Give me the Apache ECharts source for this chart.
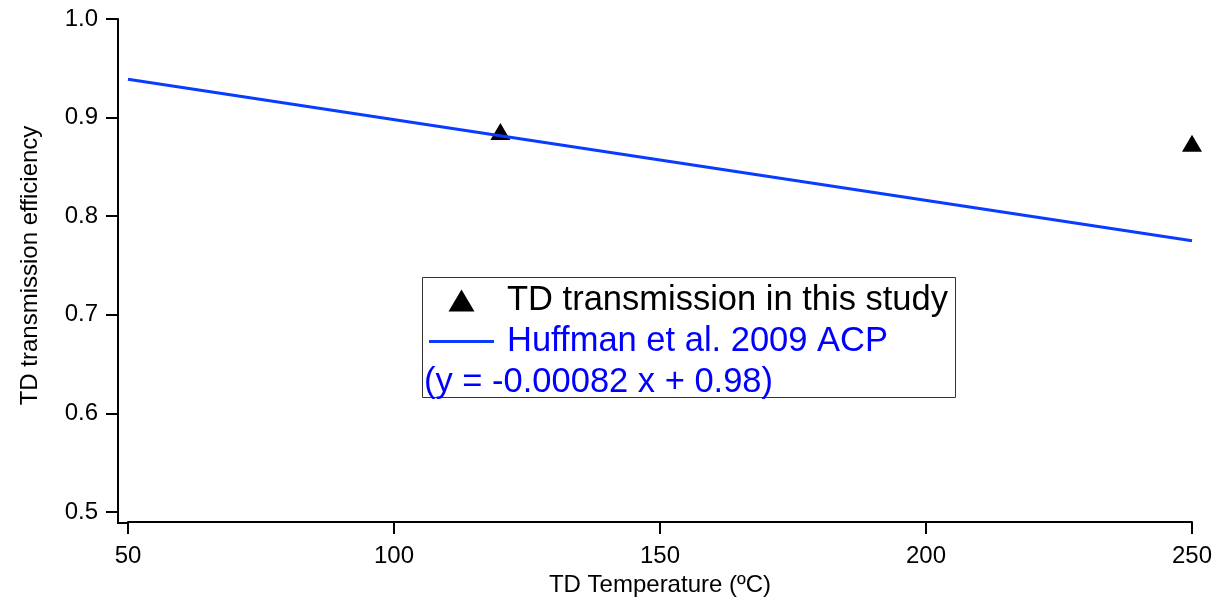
<!DOCTYPE html>
<html>
<head>
<meta charset="utf-8">
<script src="https://cdn.jsdelivr.net/npm/echarts@6/dist/echarts.min.js"></script>
<style>
html,body{margin:0;padding:0;background:#fff;}
#chart{width:1223px;height:609px;}
</style>
</head>
<body>
<div id="chart"></div>
<script>
// ---- data ----
var studyName = 'TD transmission in this study';
var studyTemps = [120, 250];
var studyValues = [0.886, 0.874];

var huffmanName = 'Huffman et al. 2009 ACP';
var huffmanTemps = [50, 250];
var huffmanValues = [0.939, 0.775];
var huffmanEquation = '(y = -0.00082 x + 0.98)';

var xTitle = 'TD Temperature (\u00BAC)';
var yTitle = 'TD transmission efficiency';
var xTicks = [50, 100, 150, 200, 250];
var yTicks = [0.5, 0.6, 0.7, 0.8, 0.9, 1.0];

// ---- build ----
function pairs(xs, ys){ return xs.map(function(x,i){ return [x, ys[i]]; }); }
var FONT = '"Liberation Sans", Arial, Helvetica, sans-serif';
var chart = echarts.init(document.getElementById('chart'), null, {renderer:'canvas'});
chart.setOption({
  backgroundColor: '#ffffff',
  animation: false,
  textStyle: {fontFamily: FONT},
  grid: {left: 128, right: 31, top: 19, bottom: 97, containLabel: false},
  xAxis: {
    type: 'value',
    min: xTicks[0], max: xTicks[xTicks.length-1], interval: 50,
    offset: 10,
    name: xTitle, nameLocation: 'middle', nameGap: 50,
    nameTextStyle: {fontSize: 24, color: '#000', fontFamily: FONT},
    axisLine: {show: true, onZero: false, lineStyle: {color: '#000', width: 2}},
    axisTick: {show: true, length: 12, lineStyle: {color: '#000', width: 2}},
    axisLabel: {fontSize: 24, color: '#000', margin: 22, fontFamily: FONT},
    splitLine: {show: false}
  },
  yAxis: {
    type: 'value',
    min: yTicks[0], max: yTicks[yTicks.length-1], interval: 0.1,
    offset: 10,
    name: yTitle, nameLocation: 'middle', nameGap: 76,
    nameTextStyle: {fontSize: 24, color: '#000', fontFamily: FONT},
    axisLine: {show: true, onZero: false, lineStyle: {color: '#000', width: 2}},
    axisTick: {show: true, length: 12, lineStyle: {color: '#000', width: 2}},
    axisLabel: {fontSize: 24, color: '#000', margin: 20, fontFamily: FONT,
      formatter: function(v){ return v.toFixed(1); }},
    splitLine: {show: false}
  },
  legend: {
    orient: 'vertical',
    left: 422, top: 280,
    itemGap: 0, itemWidth: 65, itemHeight: 22,
    padding: [0, 0, 0, 7],
    selectedMode: false,
    textStyle: {fontSize: 34.5, lineHeight: 41, fontFamily: FONT, padding: [0, 0, 0, 8]},
    data: [
      {name: studyName, icon: 'path://M13,0L26,22L0,22Z', itemStyle: {color: '#000000', opacity: 1}, textStyle: {color: '#000000'}},
      {name: huffmanName, icon: 'path://M0,0L65,0L65,3L0,3Z', itemStyle: {color: '#0a3cff', opacity: 1}, textStyle: {color: '#0000ff'}}
    ]
  },
  graphic: [
    {type: 'rect', shape: {x: 422.5, y: 277.5, width: 533, height: 120},
     style: {fill: 'none', stroke: '#333333', lineWidth: 1}, z: 100},
    {type: 'text', x: 424, y: 382,
     style: {text: huffmanEquation, fill: '#0000ff', font: '34.5px ' + FONT, verticalAlign: 'middle', align: 'left'}, z: 100},
    {type: 'polyline', shape: {points: [[118, 511], [118, 523], [129, 523]]},
     style: {stroke: '#000', lineWidth: 2, fill: 'none'}, z: 100}
  ],
  series: [
    {
      name: studyName, type: 'scatter',
      data: pairs(studyTemps, studyValues),
      symbol: 'triangle', symbolSize: [20, 17],
      itemStyle: {color: '#000000', opacity: 1}, z: 2
    },
    {
      name: huffmanName, type: 'line',
      data: pairs(huffmanTemps, huffmanValues),
      symbol: 'none', showSymbol: false,
      lineStyle: {color: '#0a3cff', width: 3},
      itemStyle: {color: '#0a3cff'}, z: 3
    }
  ]
});
</script>
</body>
</html>
